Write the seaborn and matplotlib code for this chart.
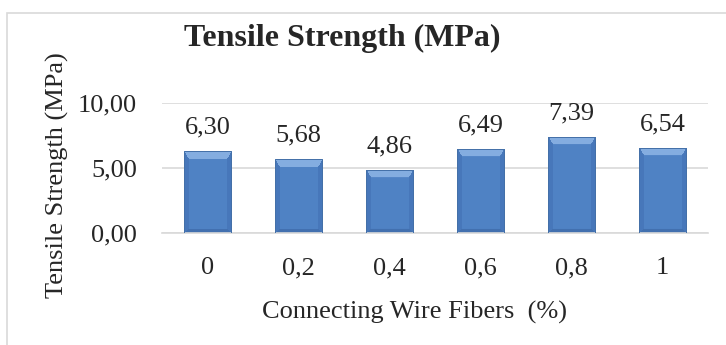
import numpy as np
import pandas as pd
import matplotlib
matplotlib.use("Agg")
import matplotlib.pyplot as plt
import seaborn as sns
from matplotlib.patches import Rectangle

# data
fiber_pct = ["0", "0,2", "0,4", "0,6", "0,8", "1"]
tensile = [6.30, 5.68, 4.86, 6.49, 7.39, 6.54]
y_ticks = [0, 5, 10]
y_tick_labels = ["0,00", "5,00", "10,00"]

df = pd.DataFrame({"fiber": fiber_pct, "strength": tensile})

sns.set_theme(style="white")
plt.rcParams["font.family"] = ["Liberation Serif", "DejaVu Serif"]

fig = plt.figure(figsize=(7.26, 3.45), dpi=100)
ax = fig.add_axes([162 / 726, 1 - 233 / 345, (708 - 162) / 726, 130 / 345])

sns.barplot(data=df, x="fiber", y="strength", color="#4f81bd", width=0.52,
            saturation=1, ax=ax, zorder=3)

ax.set_ylim(0, 10)
ax.set_yticks(y_ticks)
ax.set_yticklabels(y_tick_labels, fontsize=19)
ax.tick_params(axis="x", labelsize=19, pad=17.5, length=0)
ax.tick_params(axis="y", pad=18, length=0)
ax.yaxis.grid(True, color="#d9d9d9", linewidth=1.2, zorder=0)
for s in ["top", "right", "left"]:
    ax.spines[s].set_visible(False)
ax.spines["bottom"].set_color("#d9d9d9")
ax.spines["bottom"].set_linewidth(1.2)

ax.set_xlabel("")
ax.set_ylabel("")
fig.text(414 / 726, 1 - 312 / 345, "Connecting Wire Fibers  (%)",
         ha="center", va="center", fontsize=19)
fig.text(57 / 726, 1 - 175 / 345, "Tensile Strength (MPa)", rotation=90,
         ha="center", va="center", fontsize=19)
fig.text(342 / 726, 1 - 38 / 345, "Tensile Strength (MPa)", ha="center",
         va="center", fontsize=23, fontweight="bold")

# soft bevelled fill for each bar (light top, slightly darker sides)
c_mid = np.array([0.31, 0.51, 0.77])
c_top = np.array([0.52, 0.68, 0.88])
c_side = np.array([0.28, 0.47, 0.73])
c_bot = np.array([0.26, 0.44, 0.69])
px_per_unit = 13.0

for bar in list(ax.patches):
    x0, y0 = bar.get_x(), bar.get_y()
    w, h = bar.get_width(), bar.get_height()
    bar.set_facecolor("none")
    bar.set_edgecolor("#4470a8")
    bar.set_linewidth(0.7)
    nx, ny = 48, int(round(h * px_per_unit))
    xs = np.arange(nx)[None, :] + 0.5
    ys = np.arange(ny)[:, None] + 0.5
    # scaled distances so that the top band is wider than the side bands
    d = np.stack(np.broadcast_arrays(xs * 1.6, (nx - xs) * 1.6,
                                     ny - ys, ys * 2.0))
    nearest = d.argmin(axis=0)
    inside = d.min(axis=0) < 8
    img = np.broadcast_to(c_mid, (ny, nx, 3)).copy()
    for k, col in enumerate([c_side, c_side, c_top, c_bot]):
        img[inside & (nearest == k)] = col
    im = ax.imshow(img, extent=[x0, x0 + w, y0, y0 + h], origin="lower",
                   aspect="auto", zorder=2.5, interpolation="bilinear")
    im.set_clip_path(Rectangle((x0, y0), w, h, transform=ax.transData))
    ax.text(x0 + w / 2, h + 1.8, f"{h:.2f}".replace(".", ","), ha="center",
            va="center", fontsize=19, zorder=4)

ax.set_xlim(-0.5, 5.5)
ax.set_ylim(0, 10)

# outer chart border
fig.add_artist(Rectangle((7 / 726, -0.1), 1.0, 1 - 13 / 345 + 0.1,
                         transform=fig.transFigure, fill=False,
                         edgecolor="#d9d9d9", linewidth=1.2))

fig.savefig("out.png", dpi=100)
